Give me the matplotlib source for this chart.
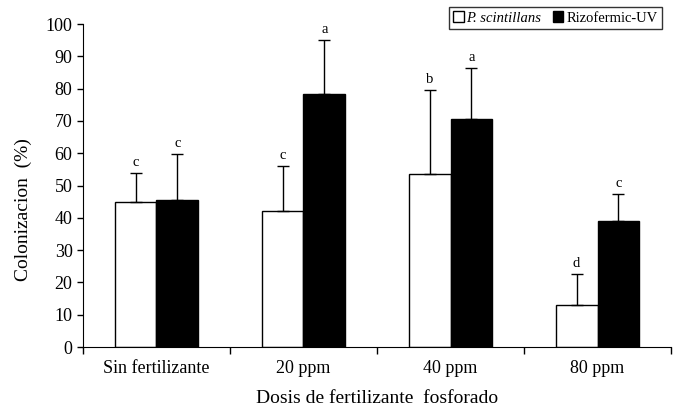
import numpy as np
import matplotlib.pyplot as plt

categories = ['Sin fertilizante', '20 ppm', '40 ppm', '80 ppm']
p_scint = [45, 42, 53.5, 13]
p_scint_err = [9, 14, 26, 9.5]
rizo = [45.5, 78.3, 70.5, 39]
rizo_err = [14.3, 16.7, 15.8, 8.3]
p_scint_letters = ['c', 'c', 'b', 'd']
rizo_letters = ['c', 'a', 'a', 'c']

plt.rcParams['font.family'] = ['Liberation Serif', 'DejaVu Serif']

fig = plt.figure(figsize=(6.78, 4.07), dpi=100)
ax = fig.add_axes([0.1224, 0.1474, 0.8673, 0.7936])

x = np.arange(len(categories))
w = 0.285
ekw = dict(elinewidth=1.0, capthick=1.0, ecolor='black')

ax.bar(x - w/2, p_scint, w, color='white', edgecolor='black', linewidth=1.0,
       yerr=[np.zeros(4), p_scint_err], capsize=4, error_kw=ekw, label='P. scintillans', zorder=2)
ax.bar(x + w/2, rizo, w, color='black', edgecolor='black', linewidth=1.0,
       yerr=[np.zeros(4), rizo_err], capsize=4, error_kw=ekw, label='Rizofermic-UV', zorder=2)

for i in range(len(categories)):
    ax.text(x[i] - w/2, p_scint[i] + p_scint_err[i] + 1.2, p_scint_letters[i],
            ha='center', va='bottom', fontsize=10.5)
    ax.text(x[i] + w/2, rizo[i] + rizo_err[i] + 1.2, rizo_letters[i],
            ha='center', va='bottom', fontsize=10.5)

ax.set_xlim(-0.5, len(categories) - 0.5)
ax.set_ylim(0, 100)
ax.set_yticks(np.arange(0, 101, 10))
ax.set_xticks(np.arange(len(categories) + 1) - 0.5)
ax.set_xticklabels([])
ax.set_xticks(x, minor=True)
ax.set_xticklabels(categories, minor=True, fontsize=13)
ax.tick_params(axis='x', which='minor', length=0, pad=9)
ax.tick_params(axis='x', which='major', length=5, direction='out', width=1)
ax.tick_params(axis='y', length=4, direction='out', width=1, labelsize=13)

ax.spines['top'].set_visible(False)
ax.spines['right'].set_visible(False)

ax.set_ylabel('Colonizacion  (%)', fontsize=14)
ax.yaxis.set_label_coords(-0.087, 0.424)
ax.set_xlabel('Dosis de fertilizante  fosforado', fontsize=14, labelpad=10)

leg = ax.legend(loc='upper right', bbox_to_anchor=(0.997, 1.075), ncol=2, fontsize=10.5,
                frameon=True, fancybox=False, edgecolor='black', handlelength=0.7,
                handleheight=0.7, handletextpad=0.2, columnspacing=0.8,
                borderpad=0.3)
leg.get_frame().set_linewidth(1.0)
leg.get_texts()[0].set_style('italic')

fig.savefig('out.png', dpi=100)
